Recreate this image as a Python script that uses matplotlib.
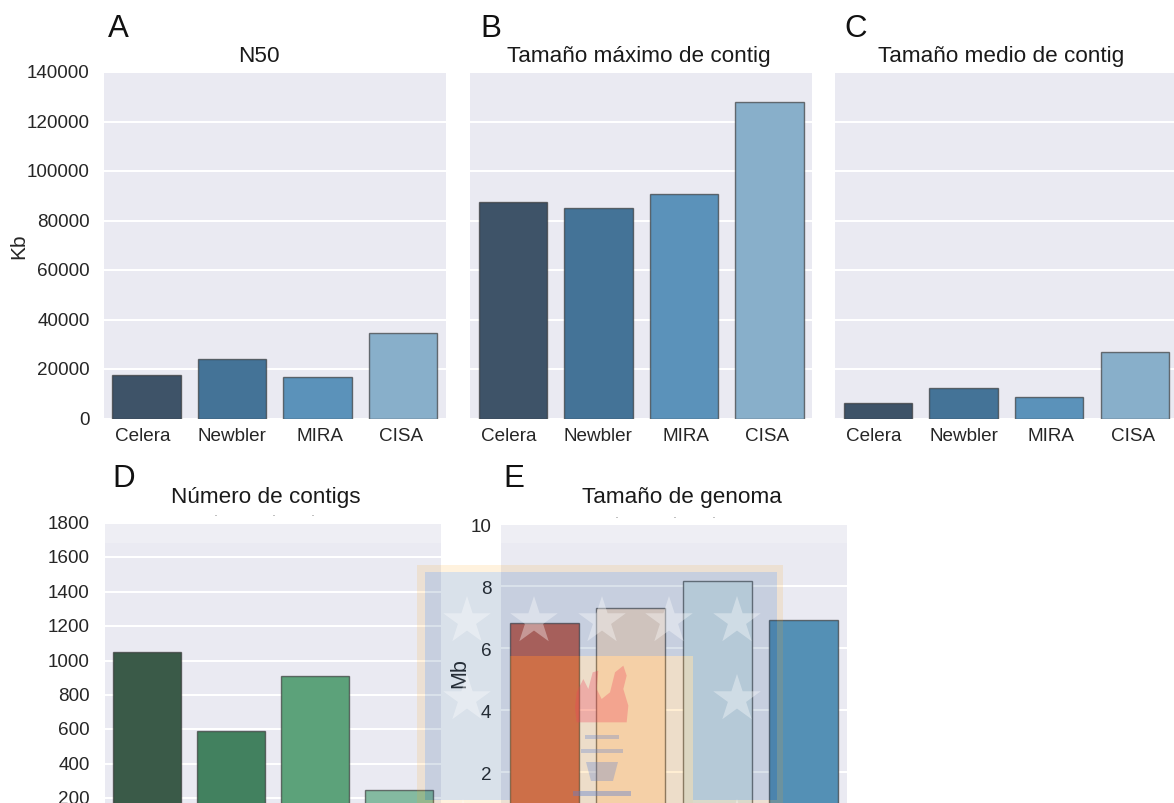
import matplotlib
matplotlib.use("Agg")
import matplotlib.pyplot as plt
from matplotlib.patches import Rectangle, Polygon
from matplotlib.transforms import ScaledTranslation
import numpy as np

plt.rcParams['font.family'] = ['Liberation Sans', 'DejaVu Sans']

W, H = 1174, 804
categories = ["Celera", "Newbler", "MIRA", "CISA"]
n50 = [17700, 24150, 16650, 34500]
max_contig = [87300, 84900, 90600, 127700]
mean_contig = [6300, 12200, 8700, 26700]
num_contigs = [1050, 590, 910, 250]
genome_size = [6.83, 7.3, 8.18, 6.9]

blues = ["#3E5368", "#447397", "#5B92BA", "#88AFCA"]
greens = ["#3A5A48", "#42815F", "#5CA27A", "#84BAA1"]
genome_colors = ["#C26353", "#F3DBC9", "#D4E2E8", "#5490B5"]
xlabel_nudge = [-4, 0, 2, -2]

fig = plt.figure(figsize=(W / 100, H / 100), dpi=100, facecolor="white")


def px(dx, dy):
    return ScaledTranslation(dx / 100, dy / 100, fig.dpi_scale_trans)


def panel(box, values, colors, title, title_x, title_y, letter, letter_x, letter_y, ylim, yticks,
          ypad=7, ylab_dy=1.5, show_x=True, show_y=True):
    x0, x1, y0, y1 = box
    ax = fig.add_axes([x0 / W, 1 - y1 / H, (x1 - x0) / W, (y1 - y0) / H])
    ax.set_facecolor("#EAEAF2")
    ax.bar(range(4), values, width=0.8, color=colors, edgecolor=(0.2, 0.2, 0.2, 0.65),
           linewidth=1.0, zorder=3)
    ax.set_xlim(-0.5, 3.5)
    ax.set_ylim(*ylim)
    ax.set_yticks(yticks)
    ax.grid(axis="y", color="white", linewidth=1.5, zorder=1)
    ax.set_axisbelow(True)
    for s in ax.spines.values():
        s.set_visible(False)
    ax.tick_params(length=0, labelsize=13.6, labelcolor="#262626")
    ax.tick_params(axis="x", pad=6)
    ax.tick_params(axis="y", pad=ypad, labelleft=show_y)
    ax.set_xticks(range(4))
    if show_x:
        ax.set_xticklabels(categories)
        for lab, d in zip(ax.get_xticklabels(), xlabel_nudge):
            lab.set_transform(lab.get_transform() + px(d, 0))
    else:
        ax.tick_params(axis="x", labelbottom=False)
    for lab in ax.get_yticklabels():
        lab.set_transform(lab.get_transform() + px(0, ylab_dy))
    fig.text(title_x / W, 1 - title_y / H, title, ha="center", va="baseline",
             fontsize=16.2, color="#1a1a1a")
    fig.text(letter_x / W, 1 - letter_y / H, letter, ha="left", va="baseline",
             fontsize=22.5, color="#111111")
    return ax


ticks_top = range(0, 140001, 20000)
panel((103.7, 446, 73, 419.6), n50, blues, "N50", 259, 62, "A", 108, 37, (0, 140000), ticks_top,
      ypad=10)
panel((470, 812.3, 73, 419.6), max_contig, blues, "Tamaño máximo de contig", 639, 62, "B", 480, 37,
      (0, 140000), ticks_top, show_y=False)
panel((835.3, 1177.5, 73, 419.6), mean_contig, blues, "Tamaño medio de contig", 1001, 62, "C", 844,
      37, (0, 140000), ticks_top, show_y=False)
panel((105, 441, 524, 833.7), num_contigs, greens, "Número de contigs", 266, 503, "D", 112, 487,
      (0, 1790), range(0, 1801, 200), ypad=11, show_x=False)
panel((501, 847, 525.3, 835.3), genome_size, genome_colors, "Tamaño de genoma", 682, 503, "E", 503,
      487, (0, 10), range(0, 11, 2), ylab_dy=0, show_x=False)

fig.text(19 / W, 1 - 246 / H, "Kb", rotation=90, ha="center", va="center",
         fontsize=15, color="#262626")
fig.text(460 / W, 1 - 673 / H, "Mb", rotation=90, ha="center", va="center",
         fontsize=15.5, color="#262626")


# ---- translucent logo overlay, in figure pixel coordinates ----
def rect(x0, y0, x1, y1, color, alpha, z=10):
    fig.add_artist(Rectangle((x0 / W, 1 - y1 / H), (x1 - x0) / W, (y1 - y0) / H,
                             transform=fig.transFigure, facecolor=color, edgecolor="none",
                             alpha=alpha, zorder=z))


def poly(pts, color, alpha, z=12):
    pts = np.asarray(pts, float)
    fig.add_artist(Polygon(np.c_[pts[:, 0] / W, 1 - pts[:, 1] / H], closed=True,
                           transform=fig.transFigure, facecolor=color, edgecolor="none",
                           alpha=alpha, zorder=z))


# lighter strip at the top of the two lower panels
rect(105, 524, 441, 544, "white", 0.2)
rect(501, 525.3, 847, 544, "white", 0.2)

GOLD, BLUE = "#FFA519", "#1F4E86"
rect(417, 565.5, 783, 573.3, GOLD, 0.14)
rect(417, 573.3, 425, 804, GOLD, 0.14)
rect(777, 573.3, 783, 804, GOLD, 0.14)
rect(425, 800.5, 510, 804, GOLD, 0.14)
rect(693, 800.5, 777, 804, GOLD, 0.14)
rect(425, 573.3, 777, 657, BLUE, 0.17)
rect(425, 657, 510, 800.5, BLUE, 0.17)
rect(693, 657, 777, 800.5, BLUE, 0.17)
rect(510, 657, 693, 804, GOLD, 0.19)


def star(cx, cy, r=25):
    ang = np.deg2rad(np.arange(10) * 36 - 90)
    rad = np.where(np.arange(10) % 2 == 0, r, r * 0.382)
    poly(np.c_[cx + rad * np.cos(ang), cy + rad * np.sin(ang)], "white", 0.36)


for sx in (467, 534, 602, 669, 737):
    star(sx, 622)
for sx in (467, 737):
    star(sx, 700)
for sx in (463, 737):
    star(sx, 825)

# flame (outline read in the reference crop at 3x)
flame = np.array([(495, 745), (500, 700), (520, 660), (535, 690), (548, 640), (565, 635),
                  (560, 690), (575, 720), (600, 700), (615, 640), (640, 620), (650, 650),
                  (640, 690), (655, 740), (650, 790), (500, 790)], float)
flame = flame / 3 + [410, 460]
poly(flame, "#F0405A", 0.3)
# torch
rect(585, 736, 619, 739.5, "#5B7FD0", 0.3, 12)
rect(581, 750, 623, 753.5, "#5B7FD0", 0.3, 12)
poly([(586, 763), (618, 763), (613, 782), (591, 782)], "#5B7FD0", 0.3)
rect(573, 792, 631, 797, "#5B7FD0", 0.4, 12)

# small specks above the lower panels
for sx, sy in [(216, 517), (274, 517), (313, 517), (617, 519), (675, 519), (714, 519)]:
    rect(sx - 1, sy - 1, sx + 1, sy, "#999999", 0.6, 12)

fig.savefig("out.png", dpi=100)
